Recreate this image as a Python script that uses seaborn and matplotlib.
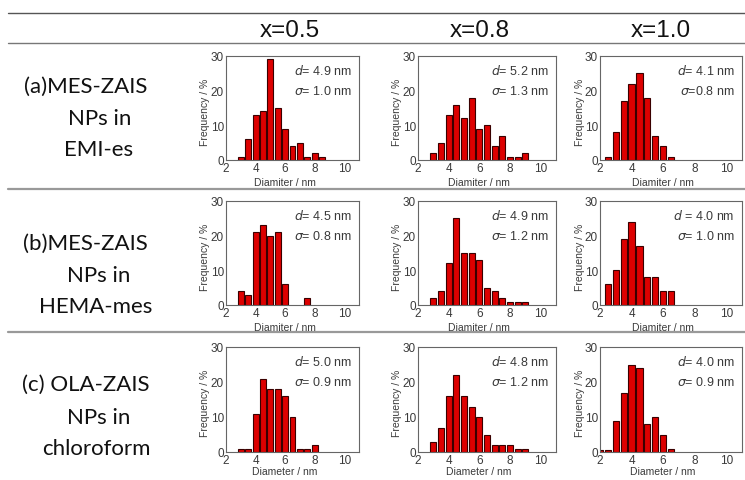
import matplotlib
matplotlib.use("Agg")
import matplotlib.pyplot as plt
from matplotlib.lines import Line2D
import seaborn as sns
import pandas as pd

sns.set_theme(style="white")
plt.rcParams['font.family'] = ['Liberation Sans', 'DejaVu Sans']

# ---------------- data ----------------
col_titles = ["x=0.5", "x=0.8", "x=1.0"]
row_labels = [
    ["(a)MES-ZAIS", "NPs in", "EMI-es"],
    ["(b)MES-ZAIS", "NPs in", "HEMA-mes"],
    ["(c) OLA-ZAIS", "NPs in", "chloroform"],
]
xlabels = ["Diamiter / nm", "Diamiter / nm", "Diameter / nm"]

# row a
a05_d = [3.0, 3.5, 4.0, 4.5, 5.0, 5.5, 6.0, 6.5, 7.0, 7.5, 8.0, 8.5]
a05_f = [1, 6, 13, 14, 29, 15, 9, 4, 5, 1, 2, 1]
a08_d = [3.0, 3.5, 4.0, 4.5, 5.0, 5.5, 6.0, 6.5, 7.0, 7.5, 8.0, 8.5, 9.0]
a08_f = [2, 5, 13, 16, 12, 18, 9, 10, 4, 7, 1, 1, 2]
a10_d = [2.5, 3.0, 3.5, 4.0, 4.5, 5.0, 5.5, 6.0, 6.5]
a10_f = [1, 8, 17, 22, 25, 18, 7, 4, 1]
# row b
b05_d = [3.0, 3.5, 4.0, 4.5, 5.0, 5.5, 6.0, 7.5]
b05_f = [4, 3, 21, 23, 20, 21, 6, 2]
b08_d = [3.0, 3.5, 4.0, 4.5, 5.0, 5.5, 6.0, 6.5, 7.0, 7.5, 8.0, 8.5, 9.0]
b08_f = [2, 4, 12, 25, 15, 15, 13, 5, 4, 2, 1, 1, 1]
b10_d = [2.5, 3.0, 3.5, 4.0, 4.5, 5.0, 5.5, 6.0, 6.5]
b10_f = [6, 10, 19, 24, 17, 8, 8, 4, 4]
# row c
c05_d = [3.0, 3.5, 4.0, 4.5, 5.0, 5.5, 6.0, 6.5, 7.0, 7.5, 8.0]
c05_f = [1, 1, 11, 21, 18, 18, 16, 10, 1, 1, 2]
c08_d = [3.0, 3.5, 4.0, 4.5, 5.0, 5.5, 6.0, 6.5, 7.0, 7.5, 8.0, 8.5, 9.0]
c08_f = [3, 7, 16, 22, 16, 13, 10, 5, 2, 2, 2, 1, 1]
c10_d = [2.0, 2.5, 3.0, 3.5, 4.0, 4.5, 5.0, 5.5, 6.0, 6.5]
c10_f = [0.7, 0.7, 9, 17, 25, 24, 8, 10, 5, 1]

diam = [[a05_d, a08_d, a10_d], [b05_d, b08_d, b10_d], [c05_d, c08_d, c10_d]]
freq = [[a05_f, a08_f, a10_f], [b05_f, b08_f, b10_f], [c05_f, c08_f, c10_f]]
mean_txt = [["4.9", "5.2", "4.1"], ["4.5", "4.9", "4.0"], ["5.0", "4.8", "4.0"]]
sd_txt = [["1.0", "1.3", "0.8"], ["0.8", "1.2", "1.0"], ["0.9", "1.2", "0.9"]]

# ---------------- layout ----------------
W, H = 745, 481
fig = plt.figure(figsize=(W / 100, H / 100), dpi=100)
fig.patch.set_facecolor("white")

def fx(px):
    return px / W

def fy(py):
    return 1 - py / H

col_lr = [(226, 359), (418, 556), (600, 742)]
row_tb = [(57, 161), (202, 306), (348, 453)]
ylab_x = [205, 397, 580]
xlab_y = [183, 328, 472]
label_y = [[87, 119, 150], [244, 276, 307], [385, 418, 449]]
label_x = [[86, 100, 99], [85, 99, 96], [86, 99, 96]]

ink = "#3a3a3a"

for r in range(3):
    for c in range(3):
        L, R = col_lr[c]
        T, B = row_tb[r]
        ax = fig.add_axes([fx(L), fy(B), fx(R - L), (B - T) / H])
        df = pd.DataFrame({"d": diam[r][c], "f": freq[r][c]})
        sns.barplot(data=df, x="d", y="f", native_scale=True, ax=ax,
                    color="#dd0000", saturation=1, edgecolor="#3a0000",
                    linewidth=0.8, width=0.8)
        ax.set_xlim(2, 11)
        ax.set_ylim(0, 30)
        ax.set_xticks([2, 4, 6, 8, 10])
        ax.set_yticks([0, 10, 20, 30])
        ax.tick_params(axis="both", direction="in", length=3, width=0.6,
                       labelsize=8.5, colors="#555555", labelcolor=ink, pad=1.5)
        for s in ax.spines.values():
            s.set_color("#666666")
            s.set_linewidth(0.8)
        ax.set_xlabel("")
        ax.set_ylabel("")
        d_sep = "= " if not (r == 1 and c == 2) else " = "
        s_sep = "= " if not (r == 0 and c == 2) else "="
        ax.text(0.95, 0.87, r"$d$" + d_sep + mean_txt[r][c] + " nm",
                transform=ax.transAxes, ha="right", va="center",
                fontsize=9, color=ink)
        ax.text(0.95, 0.67, r"$\sigma$" + s_sep + sd_txt[r][c] + " nm",
                transform=ax.transAxes, ha="right", va="center",
                fontsize=9, color=ink)
        fig.text(fx((L + R) / 2 - 8), fy(xlab_y[r]), xlabels[r], ha="center",
                 va="center", fontsize=7.5, color=ink)
        fig.text(fx(ylab_x[c]), fy((T + B) / 2 + 3), "Frequency / %",
                 rotation=90, ha="center", va="center", fontsize=7.5, color=ink)

# column headers
for c, t in enumerate(col_titles):
    fig.text(fx([290, 480, 661][c]), fy(31), t, ha="center", va="center",
             fontsize=17.5, color="#111111")

# row labels
for r in range(3):
    for k, t in enumerate(row_labels[r]):
        fig.text(fx(label_x[r][k]), fy(label_y[r][k]), t, ha="center",
                 va="center", fontsize=16, color="#111111",
                 family=["Lato", "DejaVu Sans"])

# table rules
for yy, col, lw in [(14, "#555555", 1.0), (44, "#777777", 1.0),
                    (190, "#999999", 1.6), (333, "#999999", 1.6)]:
    fig.add_artist(Line2D([fx(8), fx(745)], [fy(yy), fy(yy)], color=col,
                          linewidth=lw, transform=fig.transFigure))

fig.savefig("out.png", dpi=100)
